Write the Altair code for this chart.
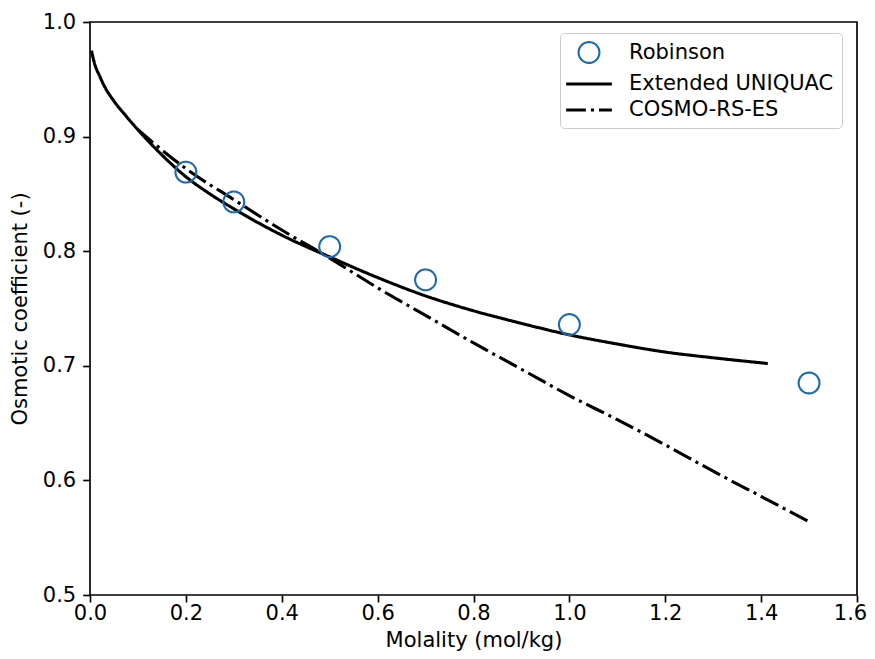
import altair as alt
import pandas as pd

series_names = ["Robinson", "Extended UNIQUAC", "COSMO-RS-ES"]

robinson_m = [0.2, 0.3, 0.5, 0.7, 1.0, 1.5]
robinson_phi = [0.869, 0.843, 0.804, 0.775, 0.736, 0.685]

uniquac_m = [0.003, 0.01, 0.02, 0.03, 0.05, 0.075, 0.1, 0.15, 0.2, 0.25, 0.3, 0.35,
             0.4, 0.5, 0.6, 0.7, 0.8, 0.9, 1.0, 1.1, 1.2, 1.3, 1.414]
uniquac_phi = [0.975, 0.963, 0.953, 0.944, 0.931, 0.918, 0.906, 0.884, 0.865, 0.850,
               0.837, 0.825, 0.814, 0.795, 0.777, 0.761, 0.748, 0.737, 0.727, 0.719,
               0.712, 0.707, 0.702]

cosmo_m = [0.1, 0.2, 0.3, 0.4, 0.5, 0.6, 0.7, 0.8, 0.9, 1.0, 1.1, 1.2, 1.3, 1.4, 1.5]
cosmo_phi = [0.906, 0.872, 0.845, 0.8185, 0.794, 0.768, 0.744, 0.720, 0.697, 0.674,
             0.653, 0.631, 0.608, 0.586, 0.564]

x_ticks = [0.0, 0.2, 0.4, 0.6, 0.8, 1.0, 1.2, 1.4, 1.6]
y_ticks = [0.5, 0.6, 0.7, 0.8, 0.9, 1.0]

FONT = "DejaVu Sans"
BLUE = "#1a6ab0"
DASHDOT = [19.8, 5, 3.1, 5]
LINE_SYMBOL = "M-2.2,0H2.2"

df_rob = pd.DataFrame({"m": robinson_m, "phi": robinson_phi, "series": series_names[0]})
df_uni = pd.DataFrame({"m": uniquac_m, "phi": uniquac_phi, "series": series_names[1]})
df_cos = pd.DataFrame({"m": cosmo_m, "phi": cosmo_phi, "series": series_names[2]})

legend = alt.Legend(title=None, orient="none", legendX=470, legendY=11, labelLimit=400)

x_enc = alt.X("m:Q", scale=alt.Scale(domain=[0, 1.6], nice=False, zero=False),
              axis=alt.Axis(values=x_ticks, format=".1f", title="Molality (mol/kg)",
                            labelOffset={"condition": {"test": "datum.value >= 1.59", "value": -7},
                                         "value": 0},
                            titleY=51, titleBaseline="alphabetic"))
y_enc = alt.Y("phi:Q", scale=alt.Scale(domain=[0.5, 1.0], nice=False, zero=False),
              axis=alt.Axis(values=y_ticks, format=".1f", title="Osmotic coefficient (-)"))

color_enc = alt.Color("series:N", legend=legend,
                      scale=alt.Scale(domain=series_names, range=[BLUE, "black", "black"]))
dash_enc = alt.StrokeDash("series:N", legend=legend,
                          scale=alt.Scale(domain=series_names, range=[[1, 0], [1, 0], DASHDOT]))
width_enc = alt.StrokeWidth("series:N", legend=legend,
                            scale=alt.Scale(type="ordinal", domain=series_names, range=[2.1, 3.1, 3.1]))

points = alt.Chart(df_rob).mark_point(filled=False, opacity=1, size=433).encode(
    x=x_enc, y=y_enc,
    color=color_enc,
    strokeDash=dash_enc,
    strokeWidth=width_enc,
    shape=alt.Shape("series:N", legend=legend,
                    scale=alt.Scale(domain=series_names, range=["circle", LINE_SYMBOL, LINE_SYMBOL])),
)

uni = alt.Chart(df_uni).mark_line(interpolate="monotone").encode(
    x=x_enc, y=y_enc, color=color_enc, strokeDash=dash_enc, strokeWidth=width_enc,
)

cos = alt.Chart(df_cos).mark_line(interpolate="monotone").encode(
    x=x_enc, y=y_enc, color=color_enc, strokeDash=dash_enc, strokeWidth=width_enc,
)

chart = alt.layer(uni, cos, points).properties(
    width=767, height=573,
    padding={"left": 82, "top": 14, "right": 10, "bottom": 56},
    autosize=alt.AutoSizeParams(type="none"),
).configure_view(
    stroke="black", strokeWidth=1.67
).configure_axis(
    grid=False, domain=False, labelFlush=False,
    ticks=True, tickColor="black", tickWidth=1.67, tickSize=7.3,
    labelFont=FONT, labelFontSize=21, labelColor="black", labelPadding=7,
    titleFont=FONT, titleFontSize=21, titleFontWeight="normal", titleColor="black",
).configure_axisX(
    tickSize=7, labelPadding=0,
).configure_axisY(
    titlePadding=12,
).configure_legend(
    labelFont=FONT, labelFontSize=21, labelColor="black", symbolSize=433,
    padding=8, strokeColor="#cccccc", fillColor="white", cornerRadius=4,
    rowPadding=4, labelOffset=28, symbolOffset=9, symbolFillColor="transparent",
)

chart.save("out.html", embed_options={"renderer": "svg", "actions": False})
